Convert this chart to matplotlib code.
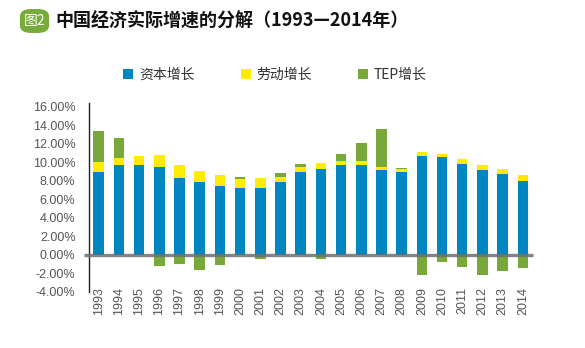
import numpy as np
import matplotlib.pyplot as plt
from matplotlib.patches import FancyBboxPatch

plt.rcParams["font.family"] = ["Liberation Sans", "Noto Sans CJK SC", "DejaVu Sans"]

# --- data (percent) ---
years = [str(y) for y in range(1993, 2015)]
capital = [8.97, 9.70, 9.70, 9.50, 8.33, 7.90, 7.46, 7.24, 7.24, 7.90, 8.97,
           9.30, 9.70, 9.70, 9.16, 8.97, 10.70, 10.60, 9.84, 9.20, 8.76, 8.00]
labour = [1.08, 0.80, 1.00, 1.28, 1.37, 1.18, 1.16, 0.94, 1.09, 0.50, 0.51,
          0.65, 0.46, 0.46, 0.35, 0.33, 0.40, 0.32, 0.51, 0.50, 0.51, 0.62]
tep = [3.30, 2.10, 0.00, -1.19, -0.97, -1.62, -1.08, 0.22, -0.43, 0.43, 0.32,
       -0.43, 0.76, 1.95, 4.08, 0.10, -2.16, -0.76, -1.30, -2.16, -1.73, -1.40]
series_names = ["资本增长", "劳动增长", "TEP增长"]
colors = ["#0087C1", "#FFEC00", "#78A839"]

capital = np.array(capital)
labour = np.array(labour)
tep = np.array(tep)
x = np.arange(len(years))

fig = plt.figure(figsize=(5.85, 3.48), dpi=100)
ax = fig.add_axes([0.1527, 0.1618, 0.7583, 0.5412])

w = 0.52
ax.bar(x, capital, w, color=colors[0], label=series_names[0], zorder=2)
ax.bar(x, labour, w, bottom=capital, color=colors[1], label=series_names[1], zorder=2)
tep_bottom = np.where(tep > 0, capital + labour, 0)
ax.bar(x, tep, w, bottom=tep_bottom, color=colors[2], label=series_names[2], zorder=2)

# zero line, slightly sticking out to the left of the axis
ax.plot([-0.75, 21.5], [0, 0], color="#6e6e6e", alpha=0.85, lw=2.4,
        zorder=3, clip_on=False, solid_capstyle="butt")

ax.set_xlim(-0.465, 21.5)
ax.set_ylim(-4, 16.37)
ax.set_yticks(np.arange(-4, 17, 2))
ax.set_yticklabels([f"{v:.2f}%" for v in np.arange(-4, 17, 2)])
ax.set_xticks(x)
ax.set_xticklabels(years, rotation=90)
ax.tick_params(axis="y", length=0, pad=10, labelsize=9, labelcolor="#555555")
ax.tick_params(axis="x", length=0, pad=-3.5, labelsize=9, labelcolor="#555555")
for s in ["top", "right", "bottom"]:
    ax.spines[s].set_visible(False)
ax.spines["left"].set_color("#222222")
ax.spines["left"].set_linewidth(1.0)

ax.legend(loc="center left", bbox_to_anchor=(0.2137 - 0.024, 0.7845),
          bbox_transform=fig.transFigure, ncol=3, frameon=False,
          handlelength=0.7, handleheight=0.7, handletextpad=0.45,
          columnspacing=3.3, labelcolor="#333333",
          prop={"family": ["Noto Sans CJK SC", "DejaVu Sans"], "size": 10})

# title with badge
badge = FancyBboxPatch((20 / 585, 1 - 33 / 348), 29 / 585, 24 / 348,
                       boxstyle="round,pad=0,rounding_size=0.02",
                       transform=fig.transFigure, facecolor="#78AB3A",
                       edgecolor="none")
fig.patches.append(badge)
fig.text(34.5 / 585, 1 - 21 / 348, "图2", color="white", fontsize=10,
         ha="center", va="center", family=["Noto Sans CJK SC", "DejaVu Sans"])
fig.text(55 / 585, 1 - 21 / 348, "中国经济实际增速的分解（1993—2014年）",
         fontsize=13, fontweight="bold", color="#111111", ha="left", va="center",
         family=["Noto Sans CJK SC", "DejaVu Sans"])

fig.savefig("out.png", dpi=100)
